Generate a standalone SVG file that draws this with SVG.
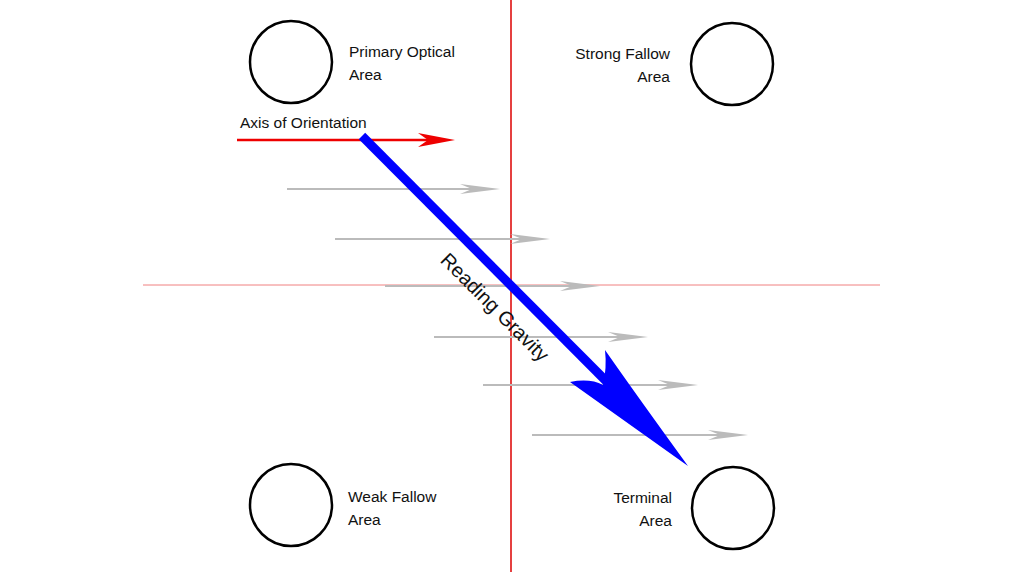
<svg xmlns="http://www.w3.org/2000/svg" width="1024" height="572" viewBox="0 0 1024 572">
<style>
.c{fill:none;stroke:#000;stroke-width:2.5}
.t{font-family:"Liberation Sans",Arial,sans-serif;font-size:15.5px;fill:#111}
.g{stroke:#bbb;stroke-width:2}
.gh{fill:#bbb}
</style>
<defs>
<path id="gh" class="gh" d="M0,0 L-40,-5 L-28,0 L-40,5 Z"/>
</defs>
<rect width="1024" height="572" fill="#fff"/>
<g id="axes">
<line x1="511" y1="0" x2="511" y2="572" stroke="#d00" stroke-width="1.5"/>
<line x1="143" y1="285" x2="880" y2="285" stroke="#f08080" stroke-width="1"/>
</g>
<g id="connectors">
<line class="g" x1="287" y1="189" x2="475" y2="189"/><use href="#gh" x="500" y="189"/>
<line class="g" x1="335" y1="239" x2="525" y2="239"/><use href="#gh" x="550" y="239"/>
<line class="g" x1="385" y1="286" x2="575" y2="286"/><use href="#gh" x="600" y="286"/>
<line class="g" x1="434" y1="337" x2="623" y2="337"/><use href="#gh" x="648" y="337"/>
<line class="g" x1="483" y1="385" x2="673" y2="385"/><use href="#gh" x="698" y="385"/>
<line class="g" x1="532" y1="435" x2="723" y2="435"/><use href="#gh" x="748" y="435"/>
<line x1="237" y1="140" x2="430" y2="140" stroke="#e00" stroke-width="2.5"/>
<path d="M455,140 L418,133 L428,140 L418,147 Z" fill="#e00"/>
<line x1="362" y1="136" x2="625" y2="400" stroke="#00f" stroke-width="9"/>
<path d="M688,466 L570,382 Q590,378 603,385 Q607,368 605,350 Q640,400 688,466 Z" fill="#00f"/>
<text class="t" style="font-size:20px" transform="translate(490,312) rotate(45)" text-anchor="middle">Reading Gravity</text>
</g>
<g id="primary"><circle class="c" cx="291" cy="62" r="41"/><text class="t" x="349" y="57">Primary Optical</text><text class="t" x="349" y="80">Area</text></g>
<g id="strong"><circle class="c" cx="732" cy="64" r="41"/><text class="t" x="670" y="59" text-anchor="end">Strong Fallow</text><text class="t" x="670" y="82" text-anchor="end">Area</text></g>
<g id="weak"><circle class="c" cx="291" cy="505" r="41"/><text class="t" x="348" y="502">Weak Fallow</text><text class="t" x="348" y="525">Area</text></g>
<g id="terminal"><circle class="c" cx="733" cy="508" r="41"/><text class="t" x="672" y="503" text-anchor="end">Terminal</text><text class="t" x="672" y="526" text-anchor="end">Area</text></g>
<g id="axislabel"><text class="t" x="240" y="128">Axis of Orientation</text></g>
</svg>
